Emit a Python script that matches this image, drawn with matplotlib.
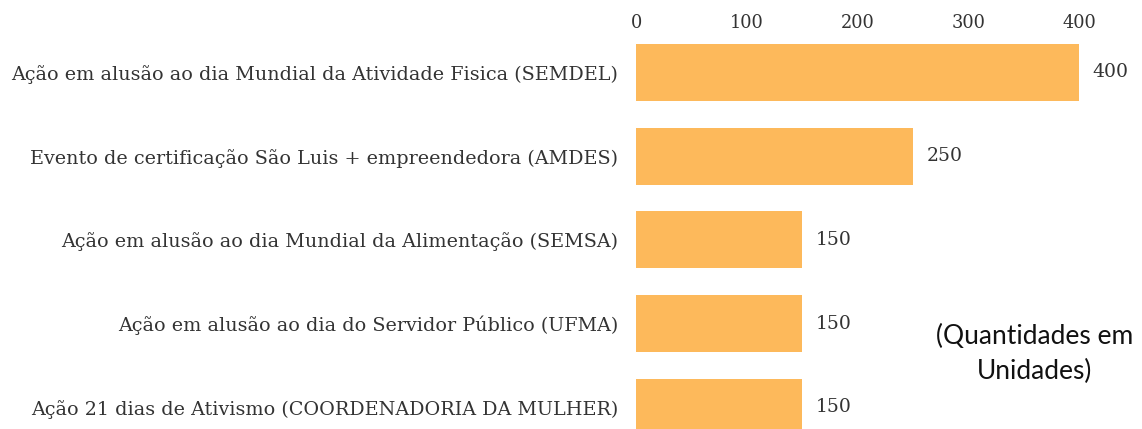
import matplotlib
matplotlib.use("Agg")
import matplotlib.pyplot as plt

# data
acoes = [
    "Ação em alusão ao dia Mundial da Atividade Fisica (SEMDEL)",
    "Evento de certificação São Luis + empreendedora (AMDES)",
    "Ação em alusão ao dia Mundial da Alimentação (SEMSA)",
    "Ação em alusão ao dia do Servidor Público (UFMA)",
    "Ação 21 dias de Ativismo (COORDENADORIA DA MULHER)",
]
quantidades = [400, 250, 150, 150, 150]
x_ticks = [0, 100, 200, 300, 400]

W, H = 1142, 429
fig = plt.figure(figsize=(W / 100, H / 100), dpi=100)
# axes placed in pixel terms: left edge at x=636, top at y=40
ax = fig.add_axes([636 / W, 0, 1 - 636 / W, (H - 40) / H])

pos = list(range(len(acoes)))
bars = ax.barh(pos, quantidades, height=0.68, color="#FDB95B")
ax.set_xlim(0, 457)
ax.set_ylim(4.26, -0.388)

ax.xaxis.tick_top()
ax.set_xticks(x_ticks)
ax.set_xticklabels([str(t) for t in x_ticks], family="DejaVu Serif",
                   fontsize=12.8, color="#333333")
ax.set_yticks(pos)
ax.set_yticklabels(acoes, family="DejaVu Serif", fontsize=13.8, color="#333333")
ax.tick_params(axis="y", length=0, pad=13)
ax.tick_params(axis="x", length=0, pad=6)
for s in ax.spines.values():
    s.set_visible(False)

ax.bar_label(bars, labels=[str(q) for q in quantidades], padding=10,
             family="DejaVu Serif", fontsize=13.5, color="#333333")

fig.text(1035 / W, 1 - 354 / H, "(Quantidades em\nUnidades)", ha="center",
         va="center", family="Lato", fontsize=19, color="#111111",
         linespacing=1.45)

fig.savefig("out.png", dpi=100)
